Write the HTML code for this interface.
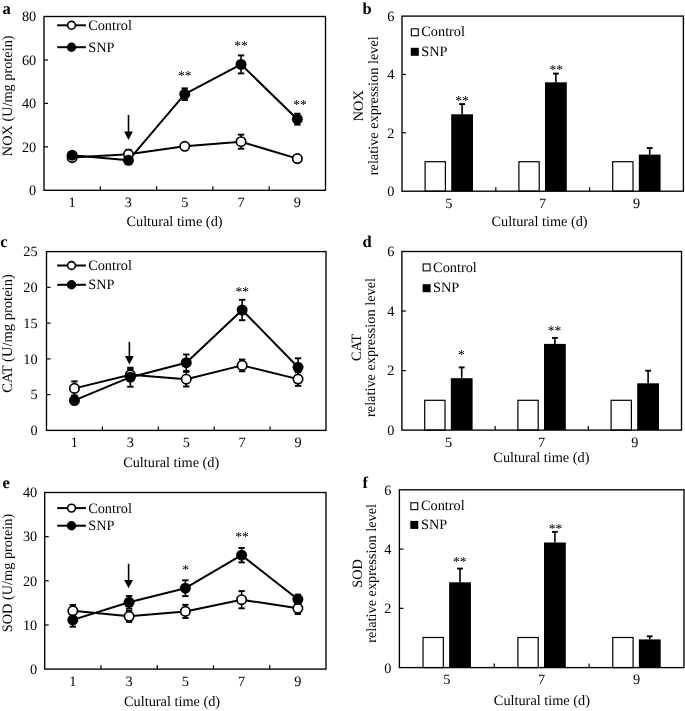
<!DOCTYPE html>
<html><head><meta charset="utf-8"><style>
html,body{margin:0;padding:0;background:#fff;}
svg{display:block;filter:grayscale(1);}
text{font-family:"Liberation Serif", serif;fill:#000;text-rendering:geometricPrecision;}
</style></head><body>
<svg width="685" height="711" viewBox="0 0 685 711">
<rect width="685" height="711" fill="#fff"/>
<rect x="44.00" y="16.50" width="281.50" height="173.80" fill="none" stroke="#000" stroke-width="1.35"/>
<text x="36.20" y="195.10" text-anchor="end" font-size="14.3" font-weight="normal" >0</text>
<line x1="44.00" y1="146.85" x2="48.00" y2="146.85" stroke="#000" stroke-width="1.2"/>
<text x="36.20" y="151.65" text-anchor="end" font-size="14.3" font-weight="normal" >20</text>
<line x1="44.00" y1="103.40" x2="48.00" y2="103.40" stroke="#000" stroke-width="1.2"/>
<text x="36.20" y="108.20" text-anchor="end" font-size="14.3" font-weight="normal" >40</text>
<line x1="44.00" y1="59.95" x2="48.00" y2="59.95" stroke="#000" stroke-width="1.2"/>
<text x="36.20" y="64.75" text-anchor="end" font-size="14.3" font-weight="normal" >60</text>
<text x="36.20" y="21.30" text-anchor="end" font-size="14.3" font-weight="normal" >80</text>
<line x1="100.30" y1="186.30" x2="100.30" y2="190.30" stroke="#000" stroke-width="1.2"/>
<line x1="156.60" y1="186.30" x2="156.60" y2="190.30" stroke="#000" stroke-width="1.2"/>
<line x1="212.90" y1="186.30" x2="212.90" y2="190.30" stroke="#000" stroke-width="1.2"/>
<line x1="269.20" y1="186.30" x2="269.20" y2="190.30" stroke="#000" stroke-width="1.2"/>
<text x="72.15" y="206.80" text-anchor="middle" font-size="14.3" font-weight="normal" >1</text>
<text x="128.45" y="206.80" text-anchor="middle" font-size="14.3" font-weight="normal" >3</text>
<text x="184.75" y="206.80" text-anchor="middle" font-size="14.3" font-weight="normal" >5</text>
<text x="241.05" y="206.80" text-anchor="middle" font-size="14.3" font-weight="normal" >7</text>
<text x="297.35" y="206.80" text-anchor="middle" font-size="14.3" font-weight="normal" >9</text>
<polyline points="72.15,157.60 128.45,154.30 184.75,146.30 241.05,141.70 297.35,158.60" fill="none" stroke="#000" stroke-width="2" stroke-linejoin="round"/>
<polyline points="72.15,155.20 128.45,160.30 184.75,94.20 241.05,64.40 297.35,119.20" fill="none" stroke="#000" stroke-width="2" stroke-linejoin="round"/>
<line x1="128.45" y1="149.80" x2="128.45" y2="158.80" stroke="#000" stroke-width="1.6"/>
<line x1="125.25" y1="149.80" x2="131.65" y2="149.80" stroke="#000" stroke-width="1.9000000000000001"/>
<line x1="125.25" y1="158.80" x2="131.65" y2="158.80" stroke="#000" stroke-width="1.9000000000000001"/>
<line x1="241.05" y1="134.65" x2="241.05" y2="148.75" stroke="#000" stroke-width="1.6"/>
<line x1="237.85" y1="134.65" x2="244.25" y2="134.65" stroke="#000" stroke-width="1.9000000000000001"/>
<line x1="237.85" y1="148.75" x2="244.25" y2="148.75" stroke="#000" stroke-width="1.9000000000000001"/>
<line x1="184.75" y1="88.35" x2="184.75" y2="100.05" stroke="#000" stroke-width="1.6"/>
<line x1="181.55" y1="88.35" x2="187.95" y2="88.35" stroke="#000" stroke-width="1.9000000000000001"/>
<line x1="181.55" y1="100.05" x2="187.95" y2="100.05" stroke="#000" stroke-width="1.9000000000000001"/>
<line x1="241.05" y1="55.40" x2="241.05" y2="73.40" stroke="#000" stroke-width="1.6"/>
<line x1="237.85" y1="55.40" x2="244.25" y2="55.40" stroke="#000" stroke-width="1.9000000000000001"/>
<line x1="237.85" y1="73.40" x2="244.25" y2="73.40" stroke="#000" stroke-width="1.9000000000000001"/>
<line x1="297.35" y1="113.70" x2="297.35" y2="124.70" stroke="#000" stroke-width="1.6"/>
<line x1="294.15" y1="113.70" x2="300.55" y2="113.70" stroke="#000" stroke-width="1.9000000000000001"/>
<line x1="294.15" y1="124.70" x2="300.55" y2="124.70" stroke="#000" stroke-width="1.9000000000000001"/>
<circle cx="72.15" cy="157.60" r="4.7" fill="#fff" stroke="#000" stroke-width="1.7"/>
<circle cx="128.45" cy="154.30" r="4.7" fill="#fff" stroke="#000" stroke-width="1.7"/>
<circle cx="184.75" cy="146.30" r="4.7" fill="#fff" stroke="#000" stroke-width="1.7"/>
<circle cx="241.05" cy="141.70" r="4.7" fill="#fff" stroke="#000" stroke-width="1.7"/>
<circle cx="297.35" cy="158.60" r="4.7" fill="#fff" stroke="#000" stroke-width="1.7"/>
<circle cx="72.15" cy="155.20" r="5.5" fill="#000"/>
<circle cx="128.45" cy="160.30" r="5.5" fill="#000"/>
<circle cx="184.75" cy="94.20" r="5.5" fill="#000"/>
<circle cx="241.05" cy="64.40" r="5.5" fill="#000"/>
<circle cx="297.35" cy="119.20" r="5.5" fill="#000"/>
<line x1="57.20" y1="25.30" x2="85.90" y2="25.30" stroke="#000" stroke-width="2"/>
<circle cx="71.50" cy="25.30" r="3.9" fill="#fff" stroke="#000" stroke-width="1.6"/>
<text x="88.20" y="29.70" text-anchor="start" font-size="14.3" font-weight="normal" >Control</text>
<line x1="57.20" y1="47.20" x2="85.90" y2="47.20" stroke="#000" stroke-width="2"/>
<circle cx="71.50" cy="47.20" r="4.7" fill="#000"/>
<text x="88.20" y="51.60" text-anchor="start" font-size="14.3" font-weight="normal" >SNP</text>
<text x="174.50" y="226.30" text-anchor="middle" font-size="14.3" font-weight="normal" >Cultural time (d)</text>
<text x="0" y="0" transform="translate(12.00,95.80) rotate(-90)" text-anchor="middle" font-size="14.3">NOX (U/mg protein)</text>
<text x="2.60" y="13.90" text-anchor="start" font-size="16.5" font-weight="bold" >a</text>
<line x1="128.50" y1="114.90" x2="128.50" y2="133.90" stroke="#000" stroke-width="1.6"/>
<polygon points="124.10,131.50 132.90,131.50 128.50,139.90" fill="#000"/>
<text x="184.80" y="79.80" text-anchor="middle" font-size="13.6" font-weight="normal" fill="#333">**</text>
<text x="241.10" y="50.20" text-anchor="middle" font-size="13.6" font-weight="normal" fill="#333">**</text>
<text x="300.00" y="108.70" text-anchor="middle" font-size="13.6" font-weight="normal" fill="#333">**</text>
<rect x="46.50" y="251.60" width="279.50" height="178.80" fill="none" stroke="#000" stroke-width="1.35"/>
<text x="37.60" y="435.20" text-anchor="end" font-size="14.3" font-weight="normal" >0</text>
<line x1="46.50" y1="394.64" x2="50.50" y2="394.64" stroke="#000" stroke-width="1.2"/>
<text x="37.60" y="399.44" text-anchor="end" font-size="14.3" font-weight="normal" >5</text>
<line x1="46.50" y1="358.88" x2="50.50" y2="358.88" stroke="#000" stroke-width="1.2"/>
<text x="37.60" y="363.68" text-anchor="end" font-size="14.3" font-weight="normal" >10</text>
<line x1="46.50" y1="323.12" x2="50.50" y2="323.12" stroke="#000" stroke-width="1.2"/>
<text x="37.60" y="327.92" text-anchor="end" font-size="14.3" font-weight="normal" >15</text>
<line x1="46.50" y1="287.36" x2="50.50" y2="287.36" stroke="#000" stroke-width="1.2"/>
<text x="37.60" y="292.16" text-anchor="end" font-size="14.3" font-weight="normal" >20</text>
<text x="37.60" y="256.40" text-anchor="end" font-size="14.3" font-weight="normal" >25</text>
<line x1="102.40" y1="426.40" x2="102.40" y2="430.40" stroke="#000" stroke-width="1.2"/>
<line x1="158.30" y1="426.40" x2="158.30" y2="430.40" stroke="#000" stroke-width="1.2"/>
<line x1="214.20" y1="426.40" x2="214.20" y2="430.40" stroke="#000" stroke-width="1.2"/>
<line x1="270.10" y1="426.40" x2="270.10" y2="430.40" stroke="#000" stroke-width="1.2"/>
<text x="74.45" y="447.00" text-anchor="middle" font-size="14.3" font-weight="normal" >1</text>
<text x="130.35" y="447.00" text-anchor="middle" font-size="14.3" font-weight="normal" >3</text>
<text x="186.25" y="447.00" text-anchor="middle" font-size="14.3" font-weight="normal" >5</text>
<text x="242.15" y="447.00" text-anchor="middle" font-size="14.3" font-weight="normal" >7</text>
<text x="298.05" y="447.00" text-anchor="middle" font-size="14.3" font-weight="normal" >9</text>
<polyline points="74.45,388.40 130.35,374.80 186.25,379.20 242.15,365.40 298.05,379.10" fill="none" stroke="#000" stroke-width="2" stroke-linejoin="round"/>
<polyline points="74.45,400.40 130.35,377.20 186.25,362.70 242.15,310.00 298.05,367.30" fill="none" stroke="#000" stroke-width="2" stroke-linejoin="round"/>
<line x1="74.45" y1="381.40" x2="74.45" y2="395.40" stroke="#000" stroke-width="1.6"/>
<line x1="71.25" y1="381.40" x2="77.65" y2="381.40" stroke="#000" stroke-width="1.9000000000000001"/>
<line x1="71.25" y1="395.40" x2="77.65" y2="395.40" stroke="#000" stroke-width="1.9000000000000001"/>
<line x1="130.35" y1="369.30" x2="130.35" y2="380.30" stroke="#000" stroke-width="1.6"/>
<line x1="127.15" y1="369.30" x2="133.55" y2="369.30" stroke="#000" stroke-width="1.9000000000000001"/>
<line x1="127.15" y1="380.30" x2="133.55" y2="380.30" stroke="#000" stroke-width="1.9000000000000001"/>
<line x1="186.25" y1="371.90" x2="186.25" y2="386.50" stroke="#000" stroke-width="1.6"/>
<line x1="183.05" y1="371.90" x2="189.45" y2="371.90" stroke="#000" stroke-width="1.9000000000000001"/>
<line x1="183.05" y1="386.50" x2="189.45" y2="386.50" stroke="#000" stroke-width="1.9000000000000001"/>
<line x1="242.15" y1="359.50" x2="242.15" y2="371.30" stroke="#000" stroke-width="1.6"/>
<line x1="238.95" y1="359.50" x2="245.35" y2="359.50" stroke="#000" stroke-width="1.9000000000000001"/>
<line x1="238.95" y1="371.30" x2="245.35" y2="371.30" stroke="#000" stroke-width="1.9000000000000001"/>
<line x1="298.05" y1="372.30" x2="298.05" y2="385.90" stroke="#000" stroke-width="1.6"/>
<line x1="294.85" y1="372.30" x2="301.25" y2="372.30" stroke="#000" stroke-width="1.9000000000000001"/>
<line x1="294.85" y1="385.90" x2="301.25" y2="385.90" stroke="#000" stroke-width="1.9000000000000001"/>
<line x1="74.45" y1="396.40" x2="74.45" y2="404.40" stroke="#000" stroke-width="1.6"/>
<line x1="71.25" y1="396.40" x2="77.65" y2="396.40" stroke="#000" stroke-width="1.9000000000000001"/>
<line x1="71.25" y1="404.40" x2="77.65" y2="404.40" stroke="#000" stroke-width="1.9000000000000001"/>
<line x1="130.35" y1="367.70" x2="130.35" y2="386.70" stroke="#000" stroke-width="1.6"/>
<line x1="127.15" y1="367.70" x2="133.55" y2="367.70" stroke="#000" stroke-width="1.9000000000000001"/>
<line x1="127.15" y1="386.70" x2="133.55" y2="386.70" stroke="#000" stroke-width="1.9000000000000001"/>
<line x1="186.25" y1="354.50" x2="186.25" y2="370.90" stroke="#000" stroke-width="1.6"/>
<line x1="183.05" y1="354.50" x2="189.45" y2="354.50" stroke="#000" stroke-width="1.9000000000000001"/>
<line x1="183.05" y1="370.90" x2="189.45" y2="370.90" stroke="#000" stroke-width="1.9000000000000001"/>
<line x1="242.15" y1="299.80" x2="242.15" y2="320.20" stroke="#000" stroke-width="1.6"/>
<line x1="238.95" y1="299.80" x2="245.35" y2="299.80" stroke="#000" stroke-width="1.9000000000000001"/>
<line x1="238.95" y1="320.20" x2="245.35" y2="320.20" stroke="#000" stroke-width="1.9000000000000001"/>
<line x1="298.05" y1="358.30" x2="298.05" y2="376.30" stroke="#000" stroke-width="1.6"/>
<line x1="294.85" y1="358.30" x2="301.25" y2="358.30" stroke="#000" stroke-width="1.9000000000000001"/>
<line x1="294.85" y1="376.30" x2="301.25" y2="376.30" stroke="#000" stroke-width="1.9000000000000001"/>
<circle cx="74.45" cy="388.40" r="4.7" fill="#fff" stroke="#000" stroke-width="1.7"/>
<circle cx="130.35" cy="374.80" r="4.7" fill="#fff" stroke="#000" stroke-width="1.7"/>
<circle cx="186.25" cy="379.20" r="4.7" fill="#fff" stroke="#000" stroke-width="1.7"/>
<circle cx="242.15" cy="365.40" r="4.7" fill="#fff" stroke="#000" stroke-width="1.7"/>
<circle cx="298.05" cy="379.10" r="4.7" fill="#fff" stroke="#000" stroke-width="1.7"/>
<circle cx="74.45" cy="400.40" r="5.5" fill="#000"/>
<circle cx="130.35" cy="377.20" r="5.5" fill="#000"/>
<circle cx="186.25" cy="362.70" r="5.5" fill="#000"/>
<circle cx="242.15" cy="310.00" r="5.5" fill="#000"/>
<circle cx="298.05" cy="367.30" r="5.5" fill="#000"/>
<line x1="57.20" y1="265.50" x2="85.90" y2="265.50" stroke="#000" stroke-width="2"/>
<circle cx="71.50" cy="265.50" r="3.9" fill="#fff" stroke="#000" stroke-width="1.6"/>
<text x="88.20" y="269.90" text-anchor="start" font-size="14.3" font-weight="normal" >Control</text>
<line x1="57.20" y1="284.80" x2="85.90" y2="284.80" stroke="#000" stroke-width="2"/>
<circle cx="71.50" cy="284.80" r="4.7" fill="#000"/>
<text x="88.20" y="289.20" text-anchor="start" font-size="14.3" font-weight="normal" >SNP</text>
<text x="171.20" y="466.80" text-anchor="middle" font-size="14.3" font-weight="normal" >Cultural time (d)</text>
<text x="0" y="0" transform="translate(12.20,333.50) rotate(-90)" text-anchor="middle" font-size="14.55">CAT (U/mg protein)</text>
<text x="0.20" y="246.90" text-anchor="start" font-size="16.5" font-weight="bold" >c</text>
<line x1="129.40" y1="341.80" x2="129.40" y2="358.50" stroke="#000" stroke-width="1.6"/>
<polygon points="125.00,356.10 133.80,356.10 129.40,364.50" fill="#000"/>
<text x="242.30" y="295.80" text-anchor="middle" font-size="13.6" font-weight="normal" fill="#333">**</text>
<rect x="44.70" y="492.50" width="281.30" height="176.60" fill="none" stroke="#000" stroke-width="1.35"/>
<text x="37.20" y="673.90" text-anchor="end" font-size="14.3" font-weight="normal" >0</text>
<line x1="44.70" y1="624.95" x2="48.70" y2="624.95" stroke="#000" stroke-width="1.2"/>
<text x="37.20" y="629.75" text-anchor="end" font-size="14.3" font-weight="normal" >10</text>
<line x1="44.70" y1="580.80" x2="48.70" y2="580.80" stroke="#000" stroke-width="1.2"/>
<text x="37.20" y="585.60" text-anchor="end" font-size="14.3" font-weight="normal" >20</text>
<line x1="44.70" y1="536.65" x2="48.70" y2="536.65" stroke="#000" stroke-width="1.2"/>
<text x="37.20" y="541.45" text-anchor="end" font-size="14.3" font-weight="normal" >30</text>
<text x="37.20" y="497.30" text-anchor="end" font-size="14.3" font-weight="normal" >40</text>
<line x1="100.96" y1="665.10" x2="100.96" y2="669.10" stroke="#000" stroke-width="1.2"/>
<line x1="157.22" y1="665.10" x2="157.22" y2="669.10" stroke="#000" stroke-width="1.2"/>
<line x1="213.48" y1="665.10" x2="213.48" y2="669.10" stroke="#000" stroke-width="1.2"/>
<line x1="269.74" y1="665.10" x2="269.74" y2="669.10" stroke="#000" stroke-width="1.2"/>
<text x="72.83" y="685.60" text-anchor="middle" font-size="14.3" font-weight="normal" >1</text>
<text x="129.09" y="685.60" text-anchor="middle" font-size="14.3" font-weight="normal" >3</text>
<text x="185.35" y="685.60" text-anchor="middle" font-size="14.3" font-weight="normal" >5</text>
<text x="241.61" y="685.60" text-anchor="middle" font-size="14.3" font-weight="normal" >7</text>
<text x="297.87" y="685.60" text-anchor="middle" font-size="14.3" font-weight="normal" >9</text>
<polyline points="72.83,610.80 129.09,616.30 185.35,611.40 241.61,599.70 297.87,608.30" fill="none" stroke="#000" stroke-width="2" stroke-linejoin="round"/>
<polyline points="72.83,619.90 129.09,602.30 185.35,588.20 241.61,555.20 297.87,599.30" fill="none" stroke="#000" stroke-width="2" stroke-linejoin="round"/>
<line x1="72.83" y1="604.90" x2="72.83" y2="616.70" stroke="#000" stroke-width="1.6"/>
<line x1="69.63" y1="604.90" x2="76.03" y2="604.90" stroke="#000" stroke-width="1.9000000000000001"/>
<line x1="69.63" y1="616.70" x2="76.03" y2="616.70" stroke="#000" stroke-width="1.9000000000000001"/>
<line x1="129.09" y1="610.70" x2="129.09" y2="621.90" stroke="#000" stroke-width="1.6"/>
<line x1="125.89" y1="610.70" x2="132.29" y2="610.70" stroke="#000" stroke-width="1.9000000000000001"/>
<line x1="125.89" y1="621.90" x2="132.29" y2="621.90" stroke="#000" stroke-width="1.9000000000000001"/>
<line x1="185.35" y1="604.80" x2="185.35" y2="618.00" stroke="#000" stroke-width="1.6"/>
<line x1="182.15" y1="604.80" x2="188.55" y2="604.80" stroke="#000" stroke-width="1.9000000000000001"/>
<line x1="182.15" y1="618.00" x2="188.55" y2="618.00" stroke="#000" stroke-width="1.9000000000000001"/>
<line x1="241.61" y1="591.10" x2="241.61" y2="608.30" stroke="#000" stroke-width="1.6"/>
<line x1="238.41" y1="591.10" x2="244.81" y2="591.10" stroke="#000" stroke-width="1.9000000000000001"/>
<line x1="238.41" y1="608.30" x2="244.81" y2="608.30" stroke="#000" stroke-width="1.9000000000000001"/>
<line x1="297.87" y1="602.60" x2="297.87" y2="614.00" stroke="#000" stroke-width="1.6"/>
<line x1="294.67" y1="602.60" x2="301.07" y2="602.60" stroke="#000" stroke-width="1.9000000000000001"/>
<line x1="294.67" y1="614.00" x2="301.07" y2="614.00" stroke="#000" stroke-width="1.9000000000000001"/>
<line x1="72.83" y1="613.10" x2="72.83" y2="626.70" stroke="#000" stroke-width="1.6"/>
<line x1="69.63" y1="613.10" x2="76.03" y2="613.10" stroke="#000" stroke-width="1.9000000000000001"/>
<line x1="69.63" y1="626.70" x2="76.03" y2="626.70" stroke="#000" stroke-width="1.9000000000000001"/>
<line x1="129.09" y1="596.00" x2="129.09" y2="608.60" stroke="#000" stroke-width="1.6"/>
<line x1="125.89" y1="596.00" x2="132.29" y2="596.00" stroke="#000" stroke-width="1.9000000000000001"/>
<line x1="125.89" y1="608.60" x2="132.29" y2="608.60" stroke="#000" stroke-width="1.9000000000000001"/>
<line x1="185.35" y1="580.30" x2="185.35" y2="596.10" stroke="#000" stroke-width="1.6"/>
<line x1="182.15" y1="580.30" x2="188.55" y2="580.30" stroke="#000" stroke-width="1.9000000000000001"/>
<line x1="182.15" y1="596.10" x2="188.55" y2="596.10" stroke="#000" stroke-width="1.9000000000000001"/>
<line x1="241.61" y1="548.00" x2="241.61" y2="562.40" stroke="#000" stroke-width="1.6"/>
<line x1="238.41" y1="548.00" x2="244.81" y2="548.00" stroke="#000" stroke-width="1.9000000000000001"/>
<line x1="238.41" y1="562.40" x2="244.81" y2="562.40" stroke="#000" stroke-width="1.9000000000000001"/>
<line x1="297.87" y1="594.60" x2="297.87" y2="604.00" stroke="#000" stroke-width="1.6"/>
<line x1="294.67" y1="594.60" x2="301.07" y2="594.60" stroke="#000" stroke-width="1.9000000000000001"/>
<line x1="294.67" y1="604.00" x2="301.07" y2="604.00" stroke="#000" stroke-width="1.9000000000000001"/>
<circle cx="72.83" cy="610.80" r="4.7" fill="#fff" stroke="#000" stroke-width="1.7"/>
<circle cx="129.09" cy="616.30" r="4.7" fill="#fff" stroke="#000" stroke-width="1.7"/>
<circle cx="185.35" cy="611.40" r="4.7" fill="#fff" stroke="#000" stroke-width="1.7"/>
<circle cx="241.61" cy="599.70" r="4.7" fill="#fff" stroke="#000" stroke-width="1.7"/>
<circle cx="297.87" cy="608.30" r="4.7" fill="#fff" stroke="#000" stroke-width="1.7"/>
<circle cx="72.83" cy="619.90" r="5.5" fill="#000"/>
<circle cx="129.09" cy="602.30" r="5.5" fill="#000"/>
<circle cx="185.35" cy="588.20" r="5.5" fill="#000"/>
<circle cx="241.61" cy="555.20" r="5.5" fill="#000"/>
<circle cx="297.87" cy="599.30" r="5.5" fill="#000"/>
<line x1="57.20" y1="508.10" x2="85.90" y2="508.10" stroke="#000" stroke-width="2"/>
<circle cx="71.50" cy="508.10" r="3.9" fill="#fff" stroke="#000" stroke-width="1.6"/>
<text x="88.20" y="512.50" text-anchor="start" font-size="14.3" font-weight="normal" >Control</text>
<line x1="57.20" y1="525.70" x2="85.90" y2="525.70" stroke="#000" stroke-width="2"/>
<circle cx="71.50" cy="525.70" r="4.7" fill="#000"/>
<text x="88.20" y="530.10" text-anchor="start" font-size="14.3" font-weight="normal" >SNP</text>
<text x="172.10" y="706.30" text-anchor="middle" font-size="14.3" font-weight="normal" >Cultural time (d)</text>
<text x="0" y="0" transform="translate(12.30,573.00) rotate(-90)" text-anchor="middle" font-size="14.3">SOD (U/mg protein)</text>
<text x="2.60" y="487.60" text-anchor="start" font-size="16.5" font-weight="bold" >e</text>
<line x1="128.60" y1="563.80" x2="128.60" y2="582.30" stroke="#000" stroke-width="1.6"/>
<polygon points="124.20,579.90 133.00,579.90 128.60,588.30" fill="#000"/>
<text x="185.70" y="573.70" text-anchor="middle" font-size="13.6" font-weight="normal" fill="#333">*</text>
<text x="242.00" y="541.00" text-anchor="middle" font-size="13.6" font-weight="normal" fill="#333">**</text>
<rect x="425.10" y="161.70" width="20.3" height="29.50" fill="#fff" stroke="#000" stroke-width="1.2"/>
<rect x="518.90" y="161.70" width="20.3" height="29.50" fill="#fff" stroke="#000" stroke-width="1.2"/>
<rect x="612.70" y="161.70" width="20.3" height="29.50" fill="#fff" stroke="#000" stroke-width="1.2"/>
<line x1="462.10" y1="104.10" x2="462.10" y2="114.30" stroke="#000" stroke-width="1.6"/>
<line x1="459.20" y1="104.10" x2="465.00" y2="104.10" stroke="#000" stroke-width="1.9"/>
<rect x="451.20" y="114.30" width="21.80" height="76.90" fill="#000"/>
<line x1="555.90" y1="73.60" x2="555.90" y2="82.30" stroke="#000" stroke-width="1.6"/>
<line x1="553.00" y1="73.60" x2="558.80" y2="73.60" stroke="#000" stroke-width="1.9"/>
<rect x="545.00" y="82.30" width="21.80" height="108.90" fill="#000"/>
<line x1="649.70" y1="148.00" x2="649.70" y2="154.60" stroke="#000" stroke-width="1.6"/>
<line x1="646.80" y1="148.00" x2="652.60" y2="148.00" stroke="#000" stroke-width="1.9"/>
<rect x="638.80" y="154.60" width="21.80" height="36.60" fill="#000"/>
<rect x="402.00" y="16.10" width="281.40" height="175.10" fill="none" stroke="#000" stroke-width="1.35"/>
<text x="394.50" y="196.10" text-anchor="end" font-size="14.3" font-weight="normal" >0</text>
<line x1="402.00" y1="132.83" x2="406.00" y2="132.83" stroke="#000" stroke-width="1.2"/>
<text x="394.50" y="137.73" text-anchor="end" font-size="14.3" font-weight="normal" >2</text>
<line x1="402.00" y1="74.47" x2="406.00" y2="74.47" stroke="#000" stroke-width="1.2"/>
<text x="394.50" y="79.37" text-anchor="end" font-size="14.3" font-weight="normal" >4</text>
<text x="394.50" y="21.00" text-anchor="end" font-size="14.3" font-weight="normal" >6</text>
<line x1="495.80" y1="187.20" x2="495.80" y2="191.20" stroke="#000" stroke-width="1.2"/>
<line x1="589.60" y1="187.20" x2="589.60" y2="191.20" stroke="#000" stroke-width="1.2"/>
<text x="448.90" y="208.20" text-anchor="middle" font-size="14.3" font-weight="normal" >5</text>
<text x="542.70" y="208.20" text-anchor="middle" font-size="14.3" font-weight="normal" >7</text>
<text x="636.50" y="208.20" text-anchor="middle" font-size="14.3" font-weight="normal" >9</text>
<rect x="411.35" y="28.85" width="6.9" height="6.9" fill="#fff" stroke="#000" stroke-width="1.1"/>
<text x="421.30" y="36.40" text-anchor="start" font-size="14.3" font-weight="normal" >Control</text>
<rect x="410.80" y="47.80" width="8" height="8" fill="#000"/>
<text x="421.30" y="55.90" text-anchor="start" font-size="14.3" font-weight="normal" >SNP</text>
<text x="539.60" y="226.00" text-anchor="middle" font-size="14.3" font-weight="normal" >Cultural time (d)</text>
<text x="0" y="0" transform="translate(363.30,105.75) rotate(-90)" text-anchor="middle" font-size="14.3">NOX</text>
<text x="0" y="0" transform="translate(377.60,105.75) rotate(-90)" text-anchor="middle" font-size="14.3">relative expression level</text>
<text x="362.60" y="13.80" text-anchor="start" font-size="16.5" font-weight="bold" >b</text>
<text x="462.00" y="105.20" text-anchor="middle" font-size="13.6" font-weight="normal" fill="#333">**</text>
<text x="556.20" y="74.40" text-anchor="middle" font-size="13.6" font-weight="normal" fill="#333">**</text>
<rect x="424.70" y="400.30" width="20.3" height="29.80" fill="#fff" stroke="#000" stroke-width="1.2"/>
<rect x="517.90" y="400.30" width="20.3" height="29.80" fill="#fff" stroke="#000" stroke-width="1.2"/>
<rect x="611.10" y="400.30" width="20.3" height="29.80" fill="#fff" stroke="#000" stroke-width="1.2"/>
<line x1="461.70" y1="367.40" x2="461.70" y2="378.20" stroke="#000" stroke-width="1.6"/>
<line x1="458.80" y1="367.40" x2="464.60" y2="367.40" stroke="#000" stroke-width="1.9"/>
<rect x="450.80" y="378.20" width="21.80" height="51.90" fill="#000"/>
<line x1="554.90" y1="338.00" x2="554.90" y2="343.90" stroke="#000" stroke-width="1.6"/>
<line x1="552.00" y1="338.00" x2="557.80" y2="338.00" stroke="#000" stroke-width="1.9"/>
<rect x="544.00" y="343.90" width="21.80" height="86.20" fill="#000"/>
<line x1="648.10" y1="370.70" x2="648.10" y2="383.30" stroke="#000" stroke-width="1.6"/>
<line x1="645.20" y1="370.70" x2="651.00" y2="370.70" stroke="#000" stroke-width="1.9"/>
<rect x="637.20" y="383.30" width="21.80" height="46.80" fill="#000"/>
<rect x="401.90" y="251.50" width="279.60" height="178.60" fill="none" stroke="#000" stroke-width="1.35"/>
<text x="394.50" y="435.00" text-anchor="end" font-size="14.3" font-weight="normal" >0</text>
<line x1="401.90" y1="370.57" x2="405.90" y2="370.57" stroke="#000" stroke-width="1.2"/>
<text x="394.50" y="375.47" text-anchor="end" font-size="14.3" font-weight="normal" >2</text>
<line x1="401.90" y1="311.03" x2="405.90" y2="311.03" stroke="#000" stroke-width="1.2"/>
<text x="394.50" y="315.93" text-anchor="end" font-size="14.3" font-weight="normal" >4</text>
<text x="394.50" y="256.40" text-anchor="end" font-size="14.3" font-weight="normal" >6</text>
<line x1="495.10" y1="426.10" x2="495.10" y2="430.10" stroke="#000" stroke-width="1.2"/>
<line x1="588.30" y1="426.10" x2="588.30" y2="430.10" stroke="#000" stroke-width="1.2"/>
<text x="448.50" y="446.80" text-anchor="middle" font-size="14.3" font-weight="normal" >5</text>
<text x="541.70" y="446.80" text-anchor="middle" font-size="14.3" font-weight="normal" >7</text>
<text x="634.90" y="446.80" text-anchor="middle" font-size="14.3" font-weight="normal" >9</text>
<rect x="423.15" y="263.95" width="6.9" height="6.9" fill="#fff" stroke="#000" stroke-width="1.1"/>
<text x="433.10" y="271.50" text-anchor="start" font-size="14.3" font-weight="normal" >Control</text>
<rect x="422.60" y="284.20" width="8" height="8" fill="#000"/>
<text x="433.10" y="292.30" text-anchor="start" font-size="14.3" font-weight="normal" >SNP</text>
<text x="541.40" y="461.80" text-anchor="middle" font-size="14.3" font-weight="normal" >Cultural time (d)</text>
<text x="0" y="0" transform="translate(360.90,347.50) rotate(-90)" text-anchor="middle" font-size="14.3">CAT</text>
<text x="0" y="0" transform="translate(375.20,347.50) rotate(-90)" text-anchor="middle" font-size="14.3">relative expression level</text>
<text x="362.60" y="246.90" text-anchor="start" font-size="16.5" font-weight="bold" >d</text>
<text x="461.50" y="359.40" text-anchor="middle" font-size="13.6" font-weight="normal" fill="#333">*</text>
<text x="554.60" y="334.80" text-anchor="middle" font-size="13.6" font-weight="normal" fill="#333">**</text>
<rect x="423.03" y="637.50" width="20.3" height="30.10" fill="#fff" stroke="#000" stroke-width="1.2"/>
<rect x="517.90" y="637.50" width="20.3" height="30.10" fill="#fff" stroke="#000" stroke-width="1.2"/>
<rect x="612.77" y="637.50" width="20.3" height="30.10" fill="#fff" stroke="#000" stroke-width="1.2"/>
<line x1="460.03" y1="568.60" x2="460.03" y2="582.30" stroke="#000" stroke-width="1.6"/>
<line x1="457.13" y1="568.60" x2="462.93" y2="568.60" stroke="#000" stroke-width="1.9"/>
<rect x="449.13" y="582.30" width="21.80" height="85.30" fill="#000"/>
<line x1="554.90" y1="531.90" x2="554.90" y2="542.50" stroke="#000" stroke-width="1.6"/>
<line x1="552.00" y1="531.90" x2="557.80" y2="531.90" stroke="#000" stroke-width="1.9"/>
<rect x="544.00" y="542.50" width="21.80" height="125.10" fill="#000"/>
<line x1="649.77" y1="636.30" x2="649.77" y2="639.40" stroke="#000" stroke-width="1.6"/>
<line x1="646.87" y1="636.30" x2="652.67" y2="636.30" stroke="#000" stroke-width="1.9"/>
<rect x="638.87" y="639.40" width="21.80" height="28.20" fill="#000"/>
<rect x="399.40" y="489.80" width="284.60" height="177.80" fill="none" stroke="#000" stroke-width="1.35"/>
<text x="391.30" y="672.50" text-anchor="end" font-size="14.3" font-weight="normal" >0</text>
<line x1="399.40" y1="608.33" x2="403.40" y2="608.33" stroke="#000" stroke-width="1.2"/>
<text x="391.30" y="613.23" text-anchor="end" font-size="14.3" font-weight="normal" >2</text>
<line x1="399.40" y1="549.07" x2="403.40" y2="549.07" stroke="#000" stroke-width="1.2"/>
<text x="391.30" y="553.97" text-anchor="end" font-size="14.3" font-weight="normal" >4</text>
<text x="391.30" y="494.70" text-anchor="end" font-size="14.3" font-weight="normal" >6</text>
<line x1="494.27" y1="663.60" x2="494.27" y2="667.60" stroke="#000" stroke-width="1.2"/>
<line x1="589.13" y1="663.60" x2="589.13" y2="667.60" stroke="#000" stroke-width="1.2"/>
<text x="446.83" y="684.20" text-anchor="middle" font-size="14.3" font-weight="normal" >5</text>
<text x="541.70" y="684.20" text-anchor="middle" font-size="14.3" font-weight="normal" >7</text>
<text x="636.57" y="684.20" text-anchor="middle" font-size="14.3" font-weight="normal" >9</text>
<rect x="410.85" y="502.75" width="6.9" height="6.9" fill="#fff" stroke="#000" stroke-width="1.1"/>
<text x="421.00" y="510.30" text-anchor="start" font-size="14.3" font-weight="normal" >Control</text>
<rect x="410.30" y="520.90" width="8" height="8" fill="#000"/>
<text x="421.00" y="529.00" text-anchor="start" font-size="14.3" font-weight="normal" >SNP</text>
<text x="541.90" y="704.50" text-anchor="middle" font-size="14.3" font-weight="normal" >Cultural time (d)</text>
<text x="0" y="0" transform="translate(362.00,573.40) rotate(-90)" text-anchor="middle" font-size="14.3">SOD</text>
<text x="0" y="0" transform="translate(376.30,573.40) rotate(-90)" text-anchor="middle" font-size="14.3">relative expression level</text>
<text x="362.40" y="487.80" text-anchor="start" font-size="16.5" font-weight="bold" >f</text>
<text x="459.70" y="566.00" text-anchor="middle" font-size="13.6" font-weight="normal" fill="#333">**</text>
<text x="555.60" y="533.40" text-anchor="middle" font-size="13.6" font-weight="normal" fill="#333">**</text>
</svg>
</body></html>
